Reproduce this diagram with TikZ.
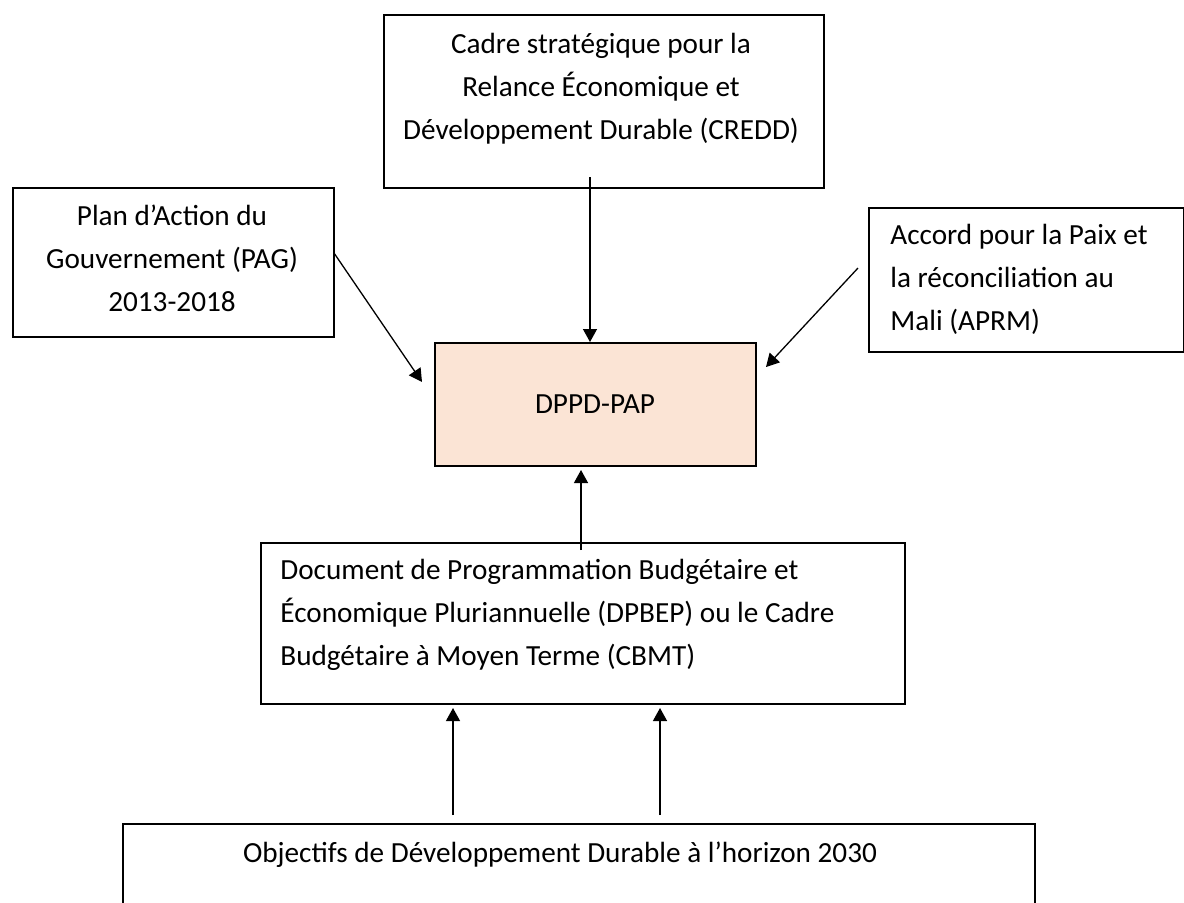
\documentclass[tikz,border=0pt]{standalone}
\usepackage{fontspec}
\setmainfont{Carlito}
\usetikzlibrary{arrows.meta}
\definecolor{peach}{HTML}{FBE4D5}
\begin{document}
\begin{tikzpicture}[x=0.5pt,y=-0.5pt,
  box/.style={draw=black,line width=0.75pt,inner sep=0pt,anchor=north west},
  lbl/.style={inner sep=0pt,font=\fontsize{14.6pt}{21.5pt}\selectfont},
  arr/.style={line width=0.65pt,-{Triangle[length=6.5pt,width=7pt]}}]
\useasboundingbox (0,0) rectangle (1184,902);
% boxes
\node[box,minimum width=220pt,minimum height=86.5pt] (credd) at (383,14) {};
\node[box,minimum width=160.5pt,minimum height=74.5pt] (pag) at (12,187) {};
\node[box,minimum width=157.5pt,minimum height=72pt] (aprm) at (868,207) {};
\node[box,fill=peach,minimum width=160.5pt,minimum height=61.5pt] (dppd) at (434,342) {};
\node[box,minimum width=322pt,minimum height=80.5pt] (dpbep) at (260,542) {};
\node[box,minimum width=456pt,minimum height=75pt] (odd) at (122,823) {};
% texts
\node[lbl,align=center] (credd-t) at (601,88.5) {Cadre stratégique pour la\\Relance Économique et\\Développement Durable (CREDD)};
\node[lbl,align=center] (pag-t) at (172,258) {Plan d’Action du\\Gouvernement (PAG)\\2013-2018};
\node[lbl,align=left,anchor=west] (aprm-t) at (890,279) {Accord pour la Paix et\\la réconciliation au\\Mali (APRM)};
\node[lbl] (dppd-t) at (595,404) {DPPD-PAP};
\node[lbl,align=left,anchor=west] (dpbep-t) at (280,614.5) {Document de Programmation Budgétaire et\\Économique Pluriannuelle (DPBEP) ou le Cadre\\Budgétaire à Moyen Terme (CBMT)};
\node[lbl] (odd-t) at (560,855) {Objectifs de Développement Durable à l’horizon 2030};
% connector ends
\coordinate (credd-out) at (590,177);
\coordinate (pag-out) at (334,253);
\coordinate (pag-in) at (422,382);
\coordinate (aprm-out) at (858,268);
\coordinate (aprm-in) at (766,367);
\coordinate (dpbep-out) at (581,550);
\coordinate (dpbep-in) at (581,470);
\coordinate (odd-out1) at (453,815);
\coordinate (odd-out2) at (660,815);
% connectors
\draw[arr] (credd-out) -- (credd-out |- dppd.north);
\draw[arr] (pag-out) -- (pag-in);
\draw[arr] (aprm-out) -- (aprm-in);
\draw[arr] (dpbep-out) -- (dpbep-in);
\draw[arr] (odd-out1) -- (odd-out1 |- 0,708);
\draw[arr] (odd-out2) -- (odd-out2 |- 0,708);
\end{tikzpicture}
\end{document}
